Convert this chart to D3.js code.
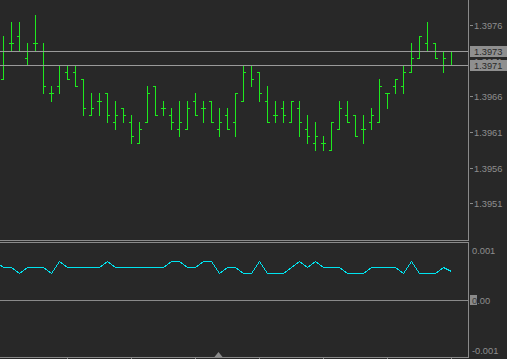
<!DOCTYPE html>
<html><head><meta charset="utf-8">
<script src="https://cdn.jsdelivr.net/npm/d3@7"></script>
<style>html,body{margin:0;padding:0;background:#282828;overflow:hidden}</style>
</head><body>
<svg id="c" width="507" height="359"></svg>
<script>
// ---- data (bar index 0..56) ----
const opens  = [1.3969,1.3974,1.3975,1.3972,1.3974,1.3973,1.3967,1.3968,1.3970,1.3970,
                1.3969,1.3964,1.3966,1.3967,1.3963,1.3965,1.3963,1.3960,1.3963,1.3968,
                1.3965,1.3964,1.3962,1.3962,1.3966,1.3965,1.3966,1.3962,1.3964,1.3963,
                1.3966,1.3971,1.3970,1.3966,1.3964,1.3965,1.3963,1.3965,1.3962,1.3960,
                1.3960,1.3959,1.3962,1.3964,1.3964,1.3962,1.3963,1.3963,1.3967,1.3968,
                1.3968,1.3970,1.3972,1.3974,1.3974,1.3973,1.3973];
const highs  = [1.3975,1.3977,1.3977,1.3974,1.3978,1.3974,1.3968,1.3971,1.3971,1.3971,
                1.3969,1.3967,1.3967,1.3967,1.3966,1.3965,1.3964,1.3963,1.3968,1.3968,
                1.3966,1.3965,1.3966,1.3966,1.3967,1.3966,1.3966,1.3965,1.3965,1.3967,
                1.3971,1.3971,1.3970,1.3968,1.3966,1.3966,1.3966,1.3966,1.3964,1.3963,
                1.3961,1.3963,1.3966,1.3966,1.3964,1.3964,1.3965,1.3969,1.3967,1.3969,
                1.3971,1.3974,1.3975,1.3977,1.3974,1.3973,1.3973];
const lows   = [1.3969,1.3973,1.3973,1.3971,1.3973,1.3967,1.3966,1.3967,1.3969,1.3968,
                1.3964,1.3964,1.3964,1.3963,1.3962,1.3963,1.3960,1.3960,1.3963,1.3964,
                1.3964,1.3962,1.3961,1.3962,1.3964,1.3963,1.3963,1.3961,1.3962,1.3961,
                1.3966,1.3968,1.3966,1.3963,1.3963,1.3963,1.3963,1.3961,1.3960,1.3959,
                1.3959,1.3959,1.3962,1.3963,1.3961,1.3960,1.3962,1.3963,1.3965,1.3967,
                1.3967,1.3970,1.3972,1.3973,1.3972,1.3970,1.3971];
const closes = [1.3973,1.3974,1.3973,1.3971,1.3974,1.3968,1.3967,1.3971,1.3969,1.3968,
                1.3965,1.3965,1.3966,1.3964,1.3964,1.3964,1.3961,1.3962,1.3967,1.3964,
                1.3965,1.3963,1.3963,1.3965,1.3964,1.3965,1.3963,1.3963,1.3962,1.3967,
                1.3970,1.3969,1.3967,1.3963,1.3964,1.3964,1.3966,1.3963,1.3961,1.3961,
                1.3960,1.3963,1.3965,1.3963,1.3961,1.3962,1.3964,1.3968,1.3967,1.3969,
                1.3970,1.3972,1.3975,1.3973,1.3972,1.3972,1.3971];
// indicator: first value belongs to bar index -1 (just off the left edge)
const indicatorFirstIndex = -1;
const indicatorValues = [0.00079,
  0.00067,0.00067,0.00055,0.00067,0.00067,0.00067,0.00055,0.00079,0.00067,0.00067,
  0.00067,0.00067,0.00067,0.00079,0.00067,0.00067,0.00067,0.00067,0.00067,0.00067,
  0.00067,0.00079,0.00079,0.00067,0.00067,0.00079,0.00079,0.00055,0.00067,0.00067,
  0.00055,0.00055,0.00079,0.00055,0.00055,0.00055,0.00067,0.00079,0.00067,0.00079,
  0.00067,0.00067,0.00067,0.00055,0.00055,0.00055,0.00067,0.00067,0.00067,0.00067,
  0.00055,0.00079,0.00055,0.00055,0.00055,0.00067,0.00059];
const priceTicks = [1.39766,1.39716,1.39666,1.39616,1.39566,1.39516];
const priceTickLabels = ["1.3976","1.3971","1.3966","1.3961","1.3956","1.3951"];
const priceLines = [1.3973,1.3971];
const priceLineLabels = ["1.3973","1.3971"];
const indTicks = [0.001,0,-0.001];
const indTickLabels = ["0.001","0.00","-0.001"];
const timeTicks = [8,16,24,32,40,48,56];

// ---- layout ----
const W=507,H=359, axisX=468;
const mainTop=0, mainBottom=240, indTop=242, indBottom=357;
const barColor="#1ee81e", lineGray="#8a8a8a", textGray="#8e8e8e";
const font="Liberation Sans, Arial, sans-serif";

const svg=d3.select("#c");
svg.append("rect").attr("width",W).attr("height",H).attr("fill","#282828");

const x=d3.scaleLinear().domain([0,56]).range([3.3,451.3]);
const y=d3.scaleLinear().domain([1.3946436,1.3980097]).range([mainBottom,mainTop]);
const yi=d3.scaleLinear().domain([-0.00114,0.00116]).range([indBottom,indTop]);
const px=v=>Math.floor(v)+0.5;
const py=v=>Math.round(y(v))+0.5;

const g=svg.append("g").attr("shape-rendering","crispEdges");

// bars
const bars=d3.range(opens.length).map(i=>({i,o:opens[i],h:highs[i],l:lows[i],c:closes[i]}));
const bg=g.append("g").attr("stroke",barColor).attr("stroke-width",1);
bars.forEach(b=>{
  const cx=px(x(b.i));
  bg.append("line").attr("x1",cx).attr("x2",cx).attr("y1",Math.round(y(b.h))).attr("y2",Math.round(y(b.l))+1);
  bg.append("line").attr("x1",cx-2.5).attr("x2",cx).attr("y1",py(b.o)).attr("y2",py(b.o));
  bg.append("line").attr("x1",cx).attr("x2",cx+2.5).attr("y1",py(b.c)).attr("y2",py(b.c));
});

// bid/ask lines
priceLines.forEach(p=>{
  g.append("line").attr("x1",0).attr("x2",axisX).attr("y1",py(p)).attr("y2",py(p))
   .attr("stroke","#9a9a9a");
});

// frames
g.append("line").attr("x1",axisX+0.5).attr("x2",axisX+0.5).attr("y1",0).attr("y2",mainBottom+1).attr("stroke",lineGray);
g.append("line").attr("x1",0).attr("x2",axisX+1).attr("y1",mainBottom+0.5).attr("y2",mainBottom+0.5).attr("stroke",lineGray);
g.append("line").attr("x1",0).attr("x2",axisX+1).attr("y1",indTop+0.5).attr("y2",indTop+0.5).attr("stroke",lineGray);
g.append("line").attr("x1",axisX+0.5).attr("x2",axisX+0.5).attr("y1",indTop).attr("y2",indBottom+1).attr("stroke",lineGray);
g.append("line").attr("x1",0).attr("x2",axisX+1).attr("y1",indBottom+0.5).attr("y2",indBottom+0.5).attr("stroke",lineGray);

// price axis ticks & labels
priceTicks.forEach((t,k)=>{
  const yy=Math.round(y(t))+0.5;
  g.append("line").attr("x1",470).attr("x2",473).attr("y1",yy).attr("y2",yy).attr("stroke",lineGray);
  svg.append("text").attr("x",474).attr("y",yy).attr("dy","0.35em")
    .attr("font-family",font).attr("font-size","9.3px").attr("fill",textGray).text(priceTickLabels[k]);
});
// price line label boxes
priceLines.forEach((p,k)=>{
  const yy=Math.round(y(p));
  svg.append("rect").attr("x",470).attr("y",yy-5).attr("width",37).attr("height",11).attr("fill","#8f8f8f");
  svg.append("text").attr("x",474).attr("y",yy+0.5).attr("dy","0.35em")
    .attr("font-family",font).attr("font-size","9.3px").attr("fill","#2a2a2a").text(priceLineLabels[k]);
});

// indicator zero line
g.append("line").attr("x1",0).attr("x2",axisX).attr("y1",Math.round(yi(0))+0.5).attr("y2",Math.round(yi(0))+0.5).attr("stroke","#8a8a8a");
// indicator axis labels
svg.append("rect").attr("x",470).attr("y",Math.round(yi(0))-5).attr("width",7).attr("height",10).attr("fill","#8a8a8a");
indTicks.forEach((t,k)=>{
  const yy=Math.round(yi(t))+0.5;
  const txt=svg.append("text").attr("x",472).attr("y",yy).attr("dy","0.35em")
    .attr("font-family",font).attr("font-size","9.3px").attr("fill",textGray);
  if(t===0){
    const s=indTickLabels[k];
    txt.append("tspan").attr("fill","#3a3a3a").text(s.slice(0,1));
    txt.append("tspan").text(s.slice(1));
  } else txt.text(indTickLabels[k]);
});

// indicator line
const line=d3.line().x((v,k)=>px(x(k+indicatorFirstIndex))).y(v=>Math.round(yi(v))+0.5);
svg.append("path").attr("d",line(indicatorValues)).attr("fill","none")
  .attr("stroke","#00e3ef").attr("stroke-width",1).attr("shape-rendering","crispEdges");

// time ticks
timeTicks.forEach(t=>{
  const xx=px(x(t));
  g.append("line").attr("x1",xx).attr("x2",xx).attr("y1",indBottom).attr("y2",H).attr("stroke",lineGray);
});
// chart shift marker
svg.append("path").attr("d","M214,357.5 L218.5,352 L223,357.5 Z").attr("fill","#8a8a8a");
</script>
</body></html>
